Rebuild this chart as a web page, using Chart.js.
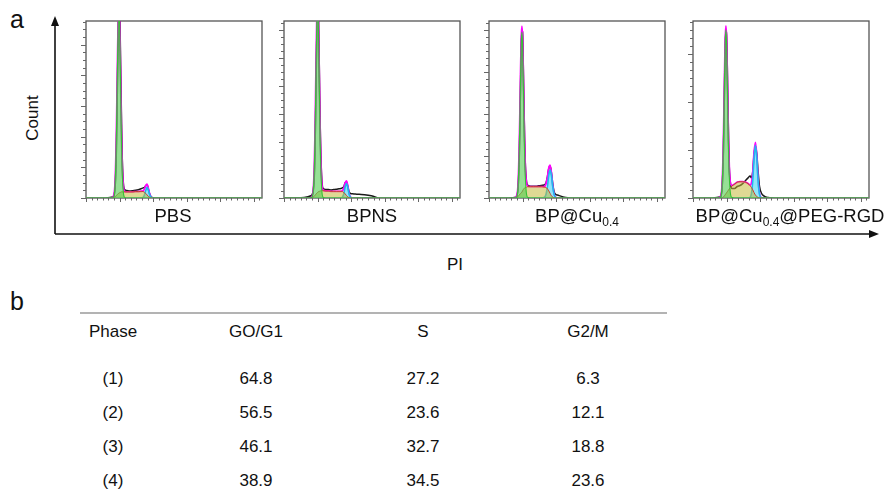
<!DOCTYPE html>
<html>
<head>
<meta charset="utf-8">
<script src="https://cdn.jsdelivr.net/npm/chart.js@4.4.1/dist/chart.umd.min.js"></script>
<style>
  html, body { margin: 0; padding: 0; background: #fff; }
  #fig { position: relative; width: 891px; height: 491px; overflow: hidden;
         font-family: "Liberation Sans", Arial, sans-serif; color: #111; }
  .abs { position: absolute; white-space: nowrap; }
  .panel { position: absolute; }
  .lbl { position: absolute; font-size: 18.5px; transform: translateX(-50%); white-space: nowrap; }
  sub { font-size: 12px; vertical-align: -4px; line-height: 0; }
  .cell { position: absolute; font-size: 17px; transform: translateX(-50%); white-space: nowrap; }
</style>
</head>
<body>
<div id="fig">
  <div class="abs" style="left:10px;top:5px;font-size:25px;">a</div>
  <div class="abs" style="left:33px;top:118px;font-size:17px;transform:translate(-50%,-50%) rotate(-90deg);">Count</div>
  <div class="abs" style="left:455px;top:255px;font-size:17px;transform:translateX(-50%);">PI</div>
  <div class="abs" style="left:10px;top:287px;font-size:25px;">b</div>

  <svg class="abs" style="left:0;top:0" width="891" height="491">
    <line x1="55" y1="234" x2="55" y2="24" stroke="#111" stroke-width="1.6"/>
    <polygon points="55,16 51,26 59,26" fill="#111"/>
    <line x1="55" y1="234" x2="870" y2="234" stroke="#111" stroke-width="1.6"/>
    <polygon points="879,234 869,230 869,238" fill="#111"/>
    <line x1="80" y1="313" x2="667" y2="313" stroke="#9a9a9a" stroke-width="1.5"/>
  </svg>

  <canvas id="p0" class="panel"></canvas>
  <canvas id="p1" class="panel"></canvas>
  <canvas id="p2" class="panel"></canvas>
  <canvas id="p3" class="panel"></canvas>

  <div id="labels"></div>
  <div id="table"></div>
</div>

<script>
// PI channel (x1000) at which every histogram/fit is sampled
const PI_K = [0, 30, 40, 43, 45, 46, 47, 48, 49, 50, 51, 52, 53, 54, 56, 58, 62, 66, 70, 74,
              78, 82, 85, 87, 89, 91, 93, 95, 97, 99, 102, 106, 112, 120, 130, 140, 262.144];

// sample names under each histogram (HTML, for the subscripts)
const SAMPLES = ['PBS', 'BPNS', 'BP@Cu<sub>0.4</sub>', 'BP@Cu<sub>0.4</sub>@PEG-RGD'];

// count axis extent and ticks for each histogram
const Y_MAX = [577, 632, 421, 369];
const Y_MAJOR = [100, 100, 100, 100];
const Y_MINOR_PER_MAJOR = [4, 4, 6, 6];
const X_MAJOR = 50;
const X_MINOR_PER_MAJOR = 6;

// null = not drawn (outside the recorded events / the fitted range)
// PBS
const pbsData = [null,0,3,25,130,250,400,540,630,640,520,380,240,130,40,27,24,23,24,25,27,30,33,34,40,44,28,12,4,1,0,null,null,null,null,null,null];
const pbsFit  = [null,null,0,38,180,312,462,586,636,589,468,321,192,104,32,21,20,20,20,21,21,22,23,29,40,45,30,12,2,0,null,null,null,null,null,null,null];
const pbsG1   = [0,0,0,35,172,302,450,572,620,572,450,302,172,84,12,1,0,0,0,0,0,0,0,0,0,0,0,0,0,0,0,0,0,0,0,0,0];
const pbsS    = [0,0,0,3,8,10,12,14,16,17,18,19,20,20,20,20,20,20,20,21,21,22,21,19,15,10,5,2,0,0,0,0,0,0,0,0,0];
const pbsG2   = [0,0,0,0,0,0,0,0,0,0,0,0,0,0,0,0,0,0,0,0,0,0,2,10,25,35,25,10,2,0,0,0,0,0,0,0,0];

// BPNS
const bpnsData = [0,2,8,20,70,150,280,450,600,700,690,560,400,250,80,35,30,30,29,30,31,33,34,36,40,54,58,42,22,16,15,14,13,12,8,0,null];
const bpnsFit  = [null,null,0,16,101,204,353,523,664,720,668,531,365,220,65,29,25,25,24,24,24,24,24,26,34,53,61,42,15,3,0,null,null,null,null,null,null];
const bpnsG1   = [0,0,0,14,95,195,341,508,646,700,646,508,341,195,39,3,0,0,0,0,0,0,0,0,0,0,0,0,0,0,0,0,0,0,0,0,0];
const bpnsS    = [0,0,0,2,6,9,12,15,18,20,22,23,24,25,26,26,25,25,24,24,24,24,24,23,20,15,9,4,1,0,0,0,0,0,0,0,0];
const bpnsG2   = [0,0,0,0,0,0,0,0,0,0,0,0,0,0,0,0,0,0,0,0,0,0,0,3,14,38,52,38,14,3,0,0,0,0,0,0,0];

// BP@Cu0.4
const bpcuData = [null,0,2,18,90,170,270,360,400,395,320,230,145,85,38,30,28,28,28,29,30,31,36,50,70,76,60,33,15,9,7,5,2,0,null,null,null];
const bpcuFit  = [null,null,0,25,117,201,298,377,409,382,307,214,134,78,34,28,27,27,27,27,27,27,34,49,71,78,59,29,9,2,0,null,null,null,null,null,null];
const bpcuG1   = [0,0,0,22,110,192,287,365,395,365,287,192,110,53,8,1,0,0,0,0,0,0,0,0,0,0,0,0,0,0,0,0,0,0,0,0,0];
const bpcuS    = [0,0,0,3,7,9,11,12,14,17,20,22,24,25,26,27,27,27,27,27,27,26,25,22,17,11,5,2,0,0,0,0,0,0,0,0,0];
const bpcuG2   = [0,0,0,0,0,0,0,0,0,0,0,0,0,0,0,0,0,0,0,0,0,1,9,27,54,67,54,27,9,2,0,0,0,0,0,0,0];

// BP@Cu0.4@PEG-RGD
const rgdData = [null,0,2,15,80,150,240,320,350,340,280,200,120,65,28,20,20,24,26,30,36,42,46,42,55,92,108,92,55,25,10,4,1,0,null,null,null];
const rgdFit  = [null,null,0,20,99,173,259,330,359,334,267,185,114,66,29,26,29,33,34,34,33,30,27,31,53,95,116,87,37,9,0,null,null,null,null,null,null];
const rgdG1   = [0,0,0,20,97,170,254,323,350,323,254,170,97,47,7,1,0,0,0,0,0,0,0,0,0,0,0,0,0,0,0,0,0,0,0,0,0];
const rgdS    = [0,0,0,0,2,3,5,7,9,11,13,15,17,19,22,25,29,33,34,34,33,30,26,22,17,11,6,3,1,0,0,0,0,0,0,0,0];
const rgdG2   = [0,0,0,0,0,0,0,0,0,0,0,0,0,0,0,0,0,0,0,0,0,0,1,9,36,84,110,84,36,9,0,0,0,0,0,0,0];

// cell-cycle table
const PHASES = ['Phase', 'GO/G1', 'S', 'G2/M'];
const GROUPS = ['(1)', '(2)', '(3)', '(4)'];
const PCT_G0G1 = ['64.8', '56.5', '46.1', '38.9'];
const PCT_S    = ['27.2', '23.6', '32.7', '34.5'];
const PCT_G2M  = ['6.3', '12.1', '18.8', '23.6'];

const SERIES = [
  [pbsData, pbsFit, pbsG1, pbsS, pbsG2],
  [bpnsData, bpnsFit, bpnsG1, bpnsS, bpnsG2],
  [bpcuData, bpcuFit, bpcuG1, bpcuS, bpcuG2],
  [rgdData, rgdFit, rgdG1, rgdS, rgdG2]
];

// layout of the histogram frames
const FRAME_LEFT = [86, 284, 489, 693];
const FRAME_TOP = 21, FRAME_W = 176, FRAME_H = 177;
const PAD = { left: 8, right: 8, top: 4, bottom: 9 };
const LABEL_X = [173, 372, 577, 790];

const pts = ys => ys.map((v, i) => ({ x: PI_K[i], y: v }));

// box frame with outward ticks on the count and PI axes
const frameTicks = {
  id: 'frameTicks',
  beforeDatasetsDraw(chart, args, opts) {
    const { ctx, chartArea: a, scales: { x, y } } = chart;
    ctx.save();
    ctx.strokeStyle = '#555';
    ctx.lineWidth = 1.3;
    ctx.strokeRect(a.left, a.top, a.right - a.left, a.bottom - a.top);
    ctx.strokeStyle = '#666';
    ctx.lineWidth = 1;
    ctx.beginPath();
    const xStep = X_MAJOR / X_MINOR_PER_MAJOR;
    for (let k = 0; k * xStep <= x.max + 1e-6; k++) {
      const px = Math.round(x.getPixelForValue(k * xStep)) + 0.5;
      const len = k % X_MINOR_PER_MAJOR === 0 ? 4 : 2.5;
      ctx.moveTo(px, a.bottom);
      ctx.lineTo(px, a.bottom + len);
    }
    const yStep = opts.major / opts.perMajor;
    for (let k = 0; k * yStep <= y.max + 1e-6; k++) {
      const py = Math.round(y.getPixelForValue(k * yStep)) + 0.5;
      const len = k % opts.perMajor === 0 ? 5 : 3;
      ctx.moveTo(a.left, py);
      ctx.lineTo(a.left - len, py);
    }
    ctx.stroke();
    ctx.restore();
  }
};

SERIES.forEach((s, i) => {
  const [hist, fit, g1, sph, g2] = s;
  const cv = document.getElementById('p' + i);
  cv.width = FRAME_W + PAD.left + PAD.right;
  cv.height = FRAME_H + PAD.top + PAD.bottom;
  cv.style.left = (FRAME_LEFT[i] - PAD.left) + 'px';
  cv.style.top = (FRAME_TOP - PAD.top) + 'px';
  new Chart(cv, {
    type: 'line',
    data: {
      // first dataset is painted last (on top): translucent phase fills over model and histogram
      datasets: [
        { label: 'G0/G1', data: pts(g1), borderColor: '#36c036', borderWidth: 1.1,
          backgroundColor: 'rgba(80,205,80,0.6)', fill: 'origin' },
        { label: 'S', data: pts(sph), borderColor: '#c8402a', borderWidth: 1,
          backgroundColor: 'rgba(196,186,60,0.55)', fill: 'origin' },
        { label: 'G2/M', data: pts(g2), borderColor: '#1fb8f0', borderWidth: 1.6,
          backgroundColor: 'rgba(70,215,245,0.6)', fill: 'origin' },
        { label: 'Model', data: pts(fit), borderColor: '#ff00ff', borderWidth: 1.8, fill: false },
        { label: 'Histogram', data: pts(hist), borderColor: '#1a1a1a', borderWidth: 1.5, fill: false }
      ]
    },
    options: {
      responsive: false,
      animation: false,
      devicePixelRatio: 1,
      layout: { padding: PAD },
      elements: { point: { radius: 0 }, line: { cubicInterpolationMode: 'monotone' } },
      scales: {
        x: { type: 'linear', min: 0, max: 262.144, display: false },
        y: { type: 'linear', min: 0, max: Y_MAX[i], display: false }
      },
      plugins: {
        legend: { display: false },
        tooltip: { enabled: false },
        frameTicks: { major: Y_MAJOR[i], perMajor: Y_MINOR_PER_MAJOR[i] }
      }
    },
    plugins: [frameTicks]
  });
});

// sample labels
const labels = document.getElementById('labels');
SAMPLES.forEach((name, i) => {
  const d = document.createElement('div');
  d.className = 'lbl';
  d.style.left = LABEL_X[i] + 'px';
  d.style.top = '205px';
  d.innerHTML = name;
  labels.appendChild(d);
});

// table
const COL_X = [113, 256, 423, 588];
const ROW_Y = [322, 369, 403, 437, 471];
const table = document.getElementById('table');
function cell(text, x, y) {
  const d = document.createElement('div');
  d.className = 'cell';
  d.style.left = x + 'px';
  d.style.top = y + 'px';
  d.textContent = text;
  table.appendChild(d);
}
PHASES.forEach((p, c) => cell(p, COL_X[c], ROW_Y[0]));
GROUPS.forEach((g, r) => {
  cell(g, COL_X[0], ROW_Y[r + 1]);
  cell(PCT_G0G1[r], COL_X[1], ROW_Y[r + 1]);
  cell(PCT_S[r], COL_X[2], ROW_Y[r + 1]);
  cell(PCT_G2M[r], COL_X[3], ROW_Y[r + 1]);
});
</script>
</body>
</html>
